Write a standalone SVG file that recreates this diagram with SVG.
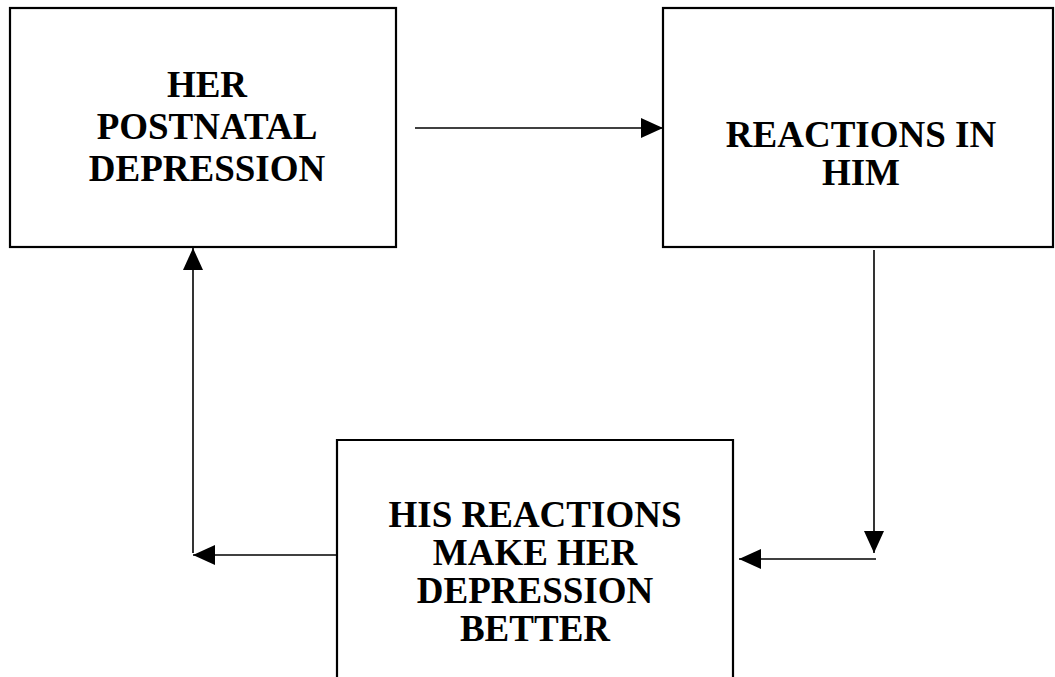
<svg xmlns="http://www.w3.org/2000/svg" width="1055" height="677" viewBox="0 0 1055 677">
<style>
.box{fill:#fff;stroke:#000;stroke-width:2.2}
.lbl{font-family:"Liberation Serif","Times New Roman",serif;font-weight:bold;font-size:37px;fill:#000;text-anchor:middle}
.con{fill:none;stroke:#000;stroke-width:1.6}
</style>
<defs>
<marker id="ah" markerUnits="userSpaceOnUse" markerWidth="24" markerHeight="22" refX="22" refY="10" orient="auto">
<path d="M0,0 L22,10 L0,20 Z" fill="#000"/>
</marker>
</defs>
<rect width="1055" height="677" fill="#fff"/>
<g id="node-her-depression">
<rect class="box" x="10" y="8" width="386" height="239"/>
<text class="lbl" x="207" y="97">HER</text>
<text class="lbl" x="207" y="139">POSTNATAL</text>
<text class="lbl" x="207" y="181">DEPRESSION</text>
</g>
<g id="node-reactions-him">
<rect class="box" x="663" y="8" width="390" height="239"/>
<text class="lbl" x="861" y="147">REACTIONS IN</text>
<text class="lbl" x="861" y="185">HIM</text>
</g>
<g id="node-his-reactions">
<path class="box" d="M337,680 L337,440 L733,440 L733,680"/>
<text class="lbl" x="535" y="527">HIS REACTIONS</text>
<text class="lbl" x="535" y="565">MAKE HER</text>
<text class="lbl" x="535" y="603">DEPRESSION</text>
<text class="lbl" x="535" y="641">BETTER</text>
</g>
<g id="connectors">
<line class="con" x1="415" y1="128" x2="663" y2="128" marker-end="url(#ah)"/>
<line class="con" x1="874" y1="250" x2="874" y2="553" marker-end="url(#ah)"/>
<line class="con" x1="876" y1="559" x2="739" y2="559" marker-end="url(#ah)"/>
<line class="con" x1="337" y1="555" x2="193" y2="555" marker-end="url(#ah)"/>
<line class="con" x1="193" y1="553" x2="193" y2="248" marker-end="url(#ah)"/>
</g>
</svg>
